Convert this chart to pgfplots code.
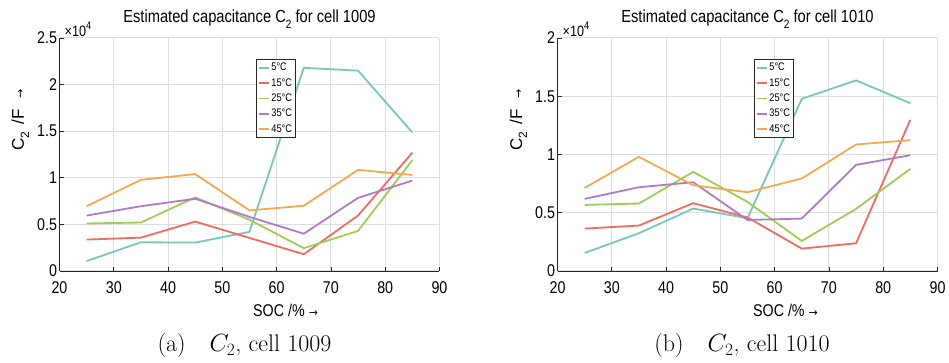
\documentclass[border=0pt]{standalone}
\usepackage{pgfplots}
\pgfplotsset{compat=1.18}
\usetikzlibrary{calc}
\usepackage{fontspec}
\newfontfamily\matfont{Liberation Sans}[FakeStretch=0.84]
\newfontfamily\matfontn{Liberation Sans}
\newfontfamily\djv{DejaVu Sans}
\newcommand{\arr}{{\djv\fontsize{11}{11}\selectfont →}}
\definecolor{c5}{RGB}{120,198,188}
\definecolor{c15}{RGB}{238,108,96}
\definecolor{c25}{RGB}{158,204,88}
\definecolor{c35}{RGB}{176,122,196}
\definecolor{c45}{RGB}{244,168,80}
\pgfplotsset{
  capstyle/.style={
    scale only axis, width=380pt, height=233pt,
    xmin=20, xmax=90, ymin=0,
    xtick={20,30,...,90},
    axis x line*=bottom, axis y line*=left,
    axis line style={draw=black!85, line width=0.8pt},
    tick style={draw=black!85, line width=0.8pt},
    major tick length=4pt, tick align=inside,
    grid=major, major grid style={draw=black!13, line width=1pt},
    /pgf/number format/assume math mode=true,
    tick label style={font=\matfont\fontsize{17}{17}\selectfont},
    xticklabel style={yshift=-7pt},
    yticklabel style={xshift=1pt},
    clip=false,
    legend style={at={(rel axis cs:0.516,0.91)}, anchor=north west, draw=black!85, line width=1.2pt,
      font=\matfont\fontsize{11}{11}\selectfont, inner sep=1.5pt, row sep=2.2pt, cells={anchor=west}},
    legend image code/.code={\draw[#1, line width=1.7pt] (0pt,0pt) -- (10pt,0pt);},
    every axis plot/.append style={line width=1.8pt},
  }
}
\begin{document}
\begin{tikzpicture}
\begin{axis}[capstyle, at={(59.5pt,92pt)}, anchor=south west, ymax=2.5, ytick={0,0.5,...,2.5}]
\addplot[c5] coordinates {(25,0.107) (35,0.308) (45,0.305) (55,0.42) (65,2.18) (75,2.15) (85,1.486)};
\addplot[c15] coordinates {(25,0.337) (35,0.358) (45,0.53) (55,0.355) (65,0.18) (75,0.595) (85,1.27)};
\addplot[c25] coordinates {(25,0.51) (35,0.52) (45,0.79) (55,0.55) (65,0.245) (75,0.43) (85,1.19)};
\addplot[c35] coordinates {(25,0.595) (35,0.695) (45,0.775) (55,0.58) (65,0.40) (75,0.785) (85,0.97)};
\addplot[c45] coordinates {(25,0.695) (35,0.978) (45,1.04) (55,0.65) (65,0.70) (75,1.085) (85,1.03)};
\legend{5°C,15°C,25°C,35°C,45°C}
\node[anchor=base, font=\matfont\fontsize{17.5}{17.5}\selectfont] at ($(rel axis cs:0.5,1)+(0pt,15pt)$) {Estimated capacitance C\raisebox{-0.3em}{\fontsize{12}{12}\selectfont 2} for cell 1009};
\node[anchor=south west, inner sep=0pt, font=\matfont\fontsize{15}{15}\selectfont] at ($(rel axis cs:0,1)+(5pt,1pt)$) {×10\raisebox{0.45em}{\fontsize{11}{11}\selectfont 4}};
\node[anchor=center, font=\matfont\fontsize{17}{17}\selectfont] at ($(rel axis cs:0.595,0)+(0pt,-39pt)$) {SOC /\% \arr};
\node[anchor=base, rotate=90, font=\matfontn\fontsize{17}{17}\selectfont] at ($(rel axis cs:0,0.648)+(-35.5pt,0pt)$) {C\raisebox{-0.3em}{\fontsize{12}{12}\selectfont 2} \,/F\hspace{11pt}\arr};
\end{axis}
\begin{axis}[capstyle, at={(557.5pt,92pt)}, anchor=south west, ymax=2, ytick={0,0.5,...,2}]
\addplot[c5] coordinates {(25,0.155) (35,0.324) (45,0.536) (55,0.453) (65,1.478) (75,1.636) (85,1.44)};
\addplot[c15] coordinates {(25,0.364) (35,0.39) (45,0.582) (55,0.46) (65,0.192) (75,0.238) (85,1.298)};
\addplot[c25] coordinates {(25,0.567) (35,0.579) (45,0.851) (55,0.593) (65,0.258) (75,0.533) (85,0.877)};
\addplot[c35] coordinates {(25,0.619) (35,0.719) (45,0.762) (55,0.438) (65,0.45) (75,0.911) (85,0.994)};
\addplot[c45] coordinates {(25,0.713) (35,0.98) (45,0.736) (55,0.676) (65,0.794) (75,1.086) (85,1.123)};
\legend{5°C,15°C,25°C,35°C,45°C}
\node[anchor=base, font=\matfont\fontsize{17.5}{17.5}\selectfont] at ($(rel axis cs:0.5,1)+(0pt,15pt)$) {Estimated capacitance C\raisebox{-0.3em}{\fontsize{12}{12}\selectfont 2} for cell 1010};
\node[anchor=south west, inner sep=0pt, font=\matfont\fontsize{15}{15}\selectfont] at ($(rel axis cs:0,1)+(5pt,1pt)$) {×10\raisebox{0.45em}{\fontsize{11}{11}\selectfont 4}};
\node[anchor=center, font=\matfont\fontsize{17}{17}\selectfont] at ($(rel axis cs:0.6,0)+(0pt,-39pt)$) {SOC /\% \arr};
\node[anchor=base, rotate=90, font=\matfontn\fontsize{17}{17}\selectfont] at ($(rel axis cs:0,0.648)+(-35.5pt,0pt)$) {C\raisebox{-0.3em}{\fontsize{12}{12}\selectfont 2} \,/F\hspace{11pt}\arr};
\end{axis}
\node[anchor=base, font=\fontsize{24}{24}\selectfont] at (244.5pt,11pt) {(a)\quad$C_2$, cell 1009};
\node[anchor=base, font=\fontsize{24}{24}\selectfont] at (742pt,11pt) {(b)\quad$C_2$, cell 1010};
\pgfresetboundingbox
\useasboundingbox (0,0) rectangle (949pt,363pt);
\end{tikzpicture}
\end{document}
